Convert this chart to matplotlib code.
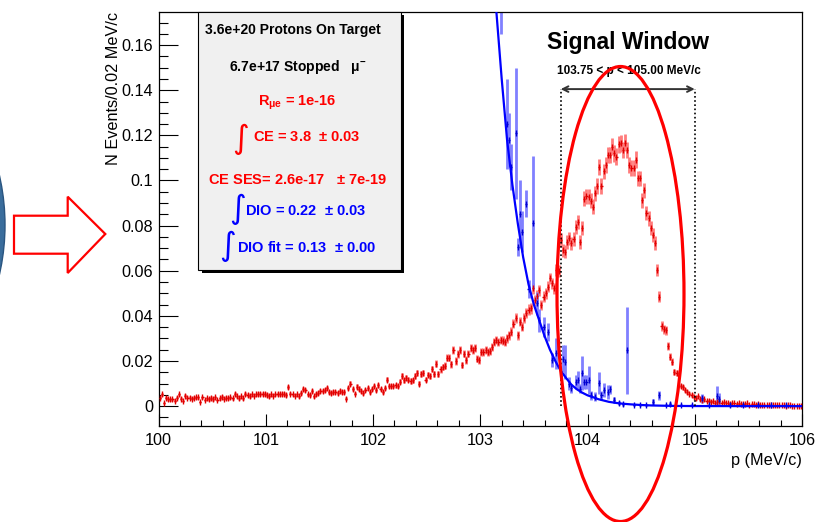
import numpy as np
import matplotlib
matplotlib.use('Agg')
import matplotlib.pyplot as plt
from matplotlib import ticker
from matplotlib.patches import Ellipse, Rectangle, Polygon

# histogram binning (0.02 MeV/c bins from 100 to 106)
bin_lo, bin_hi, bin_w = 100.0, 106.0, 0.02
p_bins = np.round(np.arange(bin_lo, bin_hi, bin_w) + bin_w / 2, 3)

# CE + DIO histogram (red), one value per bin
red_vals = [
    0.0037, 0.0052, 0.0015, 0.0037, 0.0030, 0.0030, 0.0030, 0.0025, 0.0037, 0.0052,
    0.0033, 0.0022, 0.0047, 0.0037, 0.0037, 0.0033, 0.0037, 0.0040, 0.0040, 0.0019,
    0.0040, 0.0027, 0.0034, 0.0030, 0.0037, 0.0030, 0.0040, 0.0027, 0.0034, 0.0041,
    0.0033, 0.0037, 0.0034, 0.0040, 0.0034, 0.0055, 0.0043, 0.0034, 0.0044, 0.0034,
    0.0055, 0.0049, 0.0044, 0.0052, 0.0047, 0.0052, 0.0055, 0.0055, 0.0055, 0.0055,
    0.0049, 0.0044, 0.0052, 0.0047, 0.0052, 0.0055, 0.0052, 0.0055, 0.0056, 0.0050,
    0.0084, 0.0056, 0.0052, 0.0047, 0.0052, 0.0044, 0.0058, 0.0074, 0.0070, 0.0052,
    0.0049, 0.0067, 0.0044, 0.0055, 0.0059, 0.0067, 0.0067, 0.0070, 0.0081, 0.0062,
    0.0059, 0.0064, 0.0062, 0.0059, 0.0066, 0.0062, 0.0064, 0.0033, 0.0081, 0.0099,
    0.0074, 0.0056, 0.0086, 0.0078, 0.0067, 0.0058, 0.0070, 0.0081, 0.0064, 0.0075,
    0.0089, 0.0071, 0.0092, 0.0075, 0.0064, 0.0081, 0.0118, 0.0089, 0.0089, 0.0089,
    0.0092, 0.0089, 0.0108, 0.0133, 0.0114, 0.0126, 0.0118, 0.0111, 0.0114, 0.0133,
    0.0148, 0.0099, 0.0144, 0.0148, 0.0118, 0.0140, 0.0135, 0.0165, 0.0141, 0.0188,
    0.0144, 0.0163, 0.0173, 0.0180, 0.0214, 0.0215, 0.0185, 0.0248, 0.0200, 0.0230,
    0.0248, 0.0182, 0.0233, 0.0204, 0.0233, 0.0256, 0.0250, 0.0256, 0.0211, 0.0204,
    0.0241, 0.0241, 0.0248, 0.0240, 0.0244, 0.0263, 0.0285, 0.0293, 0.0285, 0.0293,
    0.0290, 0.0285, 0.0300, 0.0315, 0.0330, 0.0366, 0.0389, 0.0315, 0.0374, 0.0352,
    0.0390, 0.0411, 0.0428, 0.0433, 0.0522, 0.0470, 0.0490, 0.0514, 0.0448, 0.0485,
    0.0500, 0.0530, 0.0566, 0.0544, 0.0522, 0.0603, 0.0600, 0.0736, 0.0691, 0.0684,
    0.0728, 0.0743, 0.0721, 0.0740, 0.0795, 0.0817, 0.0728, 0.0788, 0.0920, 0.0930,
    0.0928, 0.0910, 0.0884, 0.0943, 0.0975, 0.1060, 0.0975, 0.1040, 0.1068, 0.1113,
    0.1113, 0.1150, 0.1120, 0.1105, 0.1160, 0.1164, 0.1135, 0.1167, 0.1135, 0.1068,
    0.1054, 0.1054, 0.1093, 0.1009, 0.1009, 0.0913, 0.0957, 0.0857, 0.0832, 0.0790,
    0.0758, 0.0724, 0.0603, 0.0485, 0.0355, 0.0340, 0.0337, 0.0266, 0.0219, 0.0197,
    0.0152, 0.0145, 0.0137, 0.0089, 0.0083, 0.0070, 0.0064, 0.0056, 0.0049, 0.0041,
    0.0036, 0.0044, 0.0030, 0.0027, 0.0030, 0.0022, 0.0025, 0.0018, 0.0022, 0.0015,
    0.0020, 0.0024, 0.0015, 0.0018, 0.0012, 0.0016, 0.0010, 0.0014, 0.0012, 0.0010,
    0.0012, 0.0008, 0.0011, 0.0009, 0.0012, 0.0007, 0.0009, 0.0008, 0.0006, 0.0009,
    0.0006, 0.0005, 0.0007, 0.0004, 0.0006, 0.0005, 0.0004, 0.0005, 0.0003, 0.0004,
    0.0003, 0.0004, 0.0002, 0.0003, 0.0003, 0.0002, 0.0002, 0.0001, 0.0001, 0.0001,
]
# red errors, units of 1e-4
red_err_e4 = [
    7, 8, 4, 7, 6, 6, 6, 5, 7, 8,   6, 5, 8, 7, 7, 6, 7, 7, 7, 5,
    7, 6, 6, 6, 7, 6, 7, 6, 6, 7,   6, 7, 6, 7, 6, 8, 7, 6, 7, 6,
    8, 8, 7, 8, 8, 8, 8, 8, 8, 8,   8, 7, 8, 8, 8, 8, 8, 8, 8, 8,
    10, 8, 8, 8, 8, 7, 8, 9, 9, 8,  8, 9, 7, 8, 8, 9, 9, 9, 10, 9,
    8, 9, 9, 8, 9, 9, 9, 6, 10, 11, 9, 8, 10, 10, 9, 8, 9, 10, 9, 10,
    10, 9, 11, 10, 9, 10, 12, 10, 10, 10,  11, 10, 11, 13, 12, 12, 12, 12, 12, 13,
    13, 11, 13, 13, 12, 13, 13, 14, 13, 15,  13, 14, 14, 15, 16, 16, 15, 17, 16, 17,
    17, 15, 17, 16, 17, 18, 17, 18, 16, 16,  17, 17, 17, 17, 17, 18, 19, 19, 19, 19,
    19, 19, 19, 20, 20, 21, 22, 20, 21, 21,  22, 22, 23, 23, 25, 24, 24, 25, 23, 24,
    25, 25, 26, 26, 25, 27, 27, 30, 29, 29,  30, 30, 30, 30, 31, 31, 30, 31, 33, 34,
    34, 33, 33, 34, 34, 36, 34, 35, 36, 37,  37, 37, 37, 37, 37, 38, 37, 38, 37, 36,
    36, 36, 36, 35, 35, 33, 34, 32, 32, 31,  30, 30, 27, 24, 21, 20, 20, 18, 16, 15,
    14, 13, 13, 10, 10, 9, 9, 8, 8, 7,  7, 7, 6, 6, 6, 5, 5, 5, 5, 4,
    5, 5, 4, 5, 4, 4, 3, 4, 4, 3,  4, 3, 4, 3, 4, 3, 3, 3, 3, 3,
    3, 2, 3, 2, 3, 2, 2, 2, 2, 2,  2, 2, 2, 2, 2, 2, 2, 1, 1, 1,
]

# DIO histogram (blue), non-empty bins only
blue_p = [103.19, 103.25, 103.27, 103.29, 103.33, 103.35, 103.37, 103.39, 103.43, 103.45,
          103.49, 103.53, 103.55, 103.59, 103.63, 103.67, 103.71, 103.77, 103.79, 103.83,
          103.85, 103.89, 103.91, 103.93, 103.95, 103.97, 103.99, 104.01, 104.03, 104.07,
          104.11, 104.13, 104.15, 104.19, 104.21, 104.25, 104.29, 104.33, 104.37, 104.43,
          104.49, 104.55, 104.61, 104.67, 104.73, 104.77, 104.87, 104.97, 105.07, 105.13,
          105.21, 105.23, 105.33, 105.45, 105.59, 105.71, 105.85]
blue_vals = [0.190, 0.125, 0.118, 0.106, 0.121, 0.0706, 0.085, 0.0773, 0.0898, 0.052,
             0.0812, 0.0455, 0.038, 0.0352, 0.0329, 0.0204, 0.0234, 0.021, 0.0196, 0.010,
             0.008, 0.0108, 0.0115, 0.0078, 0.0145, 0.0108, 0.0108, 0.0115, 0.0049, 0.0041,
             0.0103, 0.0049, 0.0071, 0.0063, 0.0074, 0.0027, 0.0013, 0.0008, 0.0248, 0.0006,
             0.0005, 0.0006, 0.0019, 0.0049, 0.0006, 0.0010, 0.0005, 0.0006, 0.0035, 0.0005,
             0.0045, 0.0030, 0.0005, 0.0004, 0.0004, 0.0003, 0.0003]
blue_err = [0.025, 0.020, 0.012, 0.010, 0.029, 0.004, 0.015, 0.009, 0.006, 0.004,
            0.0295, 0.005, 0.005, 0.0045, 0.004, 0.003, 0.007, 0.006, 0.0075, 0.003,
            0.002, 0.003, 0.004, 0.002, 0.0075, 0.003, 0.003, 0.0063, 0.002, 0.002,
            0.0048, 0.002, 0.003, 0.003, 0.002, 0.0015, 0.001, 0.0006, 0.0192, 0.0005,
            0.0004, 0.0005, 0.0012, 0.002, 0.0005, 0.0008, 0.0004, 0.0005, 0.002, 0.0004,
            0.0045, 0.003, 0.0004, 0.0004, 0.0003, 0.0003, 0.0003]

# DIO fit curve
fit_p = [103.10, 103.15, 103.20, 103.25, 103.30, 103.35, 103.40, 103.45, 103.50, 103.55,
         103.60, 103.65, 103.70, 103.75, 103.80, 103.85, 103.90, 103.95, 104.00, 104.05,
         104.10, 104.20, 104.30, 104.40, 104.50, 104.60, 104.80, 105.00, 105.50, 106.00]
fit_vals = [0.213, 0.175, 0.145, 0.118, 0.098, 0.081, 0.066, 0.054, 0.045, 0.038,
            0.031, 0.025, 0.020, 0.0157, 0.0125, 0.0095, 0.0075, 0.006, 0.0048, 0.0040,
            0.0031, 0.0019, 0.0012, 0.0008, 0.0005, 0.0003, 0.0001, 0.00004, 0.0, 0.0]

y_ticks = [0, 0.02, 0.04, 0.06, 0.08, 0.1, 0.12, 0.14, 0.16]
x_ticks = [100, 101, 102, 103, 104, 105, 106]
window = (103.75, 105.00)

plt.rcParams['font.family'] = ['Liberation Sans', 'DejaVu Sans']
plt.rcParams['mathtext.fontset'] = 'custom'
plt.rcParams['mathtext.rm'] = 'Liberation Sans'
plt.rcParams['mathtext.it'] = 'Liberation Sans:italic'
plt.rcParams['mathtext.default'] = 'regular'

W, H = 818, 522
fig = plt.figure(figsize=(W / 100, H / 100), dpi=100)
fig.patch.set_facecolor('white')
ax = fig.add_axes([158.5 / W, 1 - 426 / H, (802 - 158.5) / W, (426 - 11.7) / H])

red_vals = np.asarray(red_vals)
red_err = np.asarray(red_err_e4) * 1e-4

# red points
ax.errorbar(p_bins, red_vals, yerr=red_err, fmt='none', ecolor='#ff7c7c', elinewidth=2.0, zorder=2)
ax.errorbar(p_bins, red_vals, xerr=bin_w / 2, fmt='none', ecolor='#e00000', elinewidth=1.0, zorder=3)
ax.plot(p_bins, red_vals, ls='none', marker='|', ms=4, mew=1.0, color='#e00000', zorder=3)

# blue points
ax.errorbar(blue_p, blue_vals, yerr=blue_err, fmt='none', ecolor='#8080ff', elinewidth=2.0, zorder=2)
ax.errorbar(blue_p, blue_vals, xerr=bin_w / 2, fmt='none', ecolor='#0000d0', elinewidth=1.0, zorder=3)
ax.plot(blue_p, blue_vals, ls='none', marker='|', ms=4, mew=1.0, color='#0000d0', zorder=3)

# fit
ax.plot(fit_p, fit_vals, color='#0000ff', lw=1.6, zorder=4)

# signal window
ax.vlines(window, 0, 0.1405, colors='k', linestyles=(0, (1, 1.5)), lw=1.2, zorder=5)
ax.annotate('', xy=(window[0], 0.1405), xytext=(window[1], 0.1405),
            arrowprops=dict(arrowstyle='<->', color='#333333', lw=1.4, shrinkA=0, shrinkB=0))
ax.text(104.373, 0.1613, 'Signal Window', ha='center', va='center', fontsize=16.5, weight='bold')
ax.text(104.382, 0.1486, '103.75 < p < 105.00 MeV/c', ha='center', va='center', fontsize=8.5, weight='bold')

ax.set_xlim(bin_lo, bin_hi)
ax.set_ylim(-0.0088, 0.1748)
ax.set_xticks(x_ticks)
ax.set_yticks(y_ticks)
ax.yaxis.set_major_formatter(ticker.FuncFormatter(lambda v, _: f'{v:g}'))
ax.xaxis.set_minor_locator(ticker.MultipleLocator(0.2))
ax.yaxis.set_minor_locator(ticker.MultipleLocator(0.005))
ax.tick_params(axis='y', which='major', direction='in', length=13.7, width=0.8, labelsize=11.7, pad=4)
ax.tick_params(axis='y', which='minor', direction='in', length=6.8, width=0.8)
ax.tick_params(axis='x', which='major', direction='in', length=8.9, width=0.8, labelsize=11.7, pad=5)
ax.tick_params(axis='x', which='minor', direction='in', length=4.5, width=0.8)
for s in ax.spines.values():
    s.set_linewidth(0.9)
    s.set_color('black')

# overlay in figure pixels
ov = fig.add_axes([0, 0, 1, 1])
ov.set_xlim(0, W)
ov.set_ylim(H, 0)
ov.axis('off')
ov.set_zorder(10)
ov.patch.set_alpha(0)

ov.text(113.5, 12, 'N Events/0.02 MeV/c', rotation=90, ha='center', va='top', fontsize=11.7)
ov.text(802, 460, 'p (MeV/c)', ha='right', va='center', fontsize=11.7)

# stats box
ov.add_patch(Rectangle((201.5, 14.7), 202.4, 258.3, facecolor='black', edgecolor='none'))
ov.add_patch(Rectangle((198.3, 11.7), 202.4, 258.3, facecolor='#f0f0f0', edgecolor='black', lw=0.8))
ov.text(293, 30, '3.6e+20 Protons On Target', ha='center', va='center', fontsize=10, weight='bold')
ov.text(298, 67, r'6.7e+17 Stopped   $\mu^{-}$', ha='center', va='center', fontsize=10, weight='bold')
ov.text(297, 103, r'R$_{\mu e}$ = 1e-16', ha='center', va='center', fontsize=10.5, weight='bold', color='red')
ov.text(240, 139, '\u222b', ha='center', va='center', fontsize=23, color='red', family='DejaVu Sans')
ov.text(253, 137, r'CE = 3.8  $\pm$ 0.03', ha='left', va='center', fontsize=10.5, weight='bold', color='red')
ov.text(297, 180, r'CE SES= 2.6e-17   $\pm$ 7e-19', ha='center', va='center', fontsize=10.5, weight='bold', color='red')
ov.text(237, 209, '\u222b', ha='center', va='center', fontsize=23, color='blue', family='DejaVu Sans')
ov.text(245, 211, r'DIO = 0.22  $\pm$ 0.03', ha='left', va='center', fontsize=10.5, weight='bold', color='blue')
ov.text(227, 246, '\u222b', ha='center', va='center', fontsize=23, color='blue', family='DejaVu Sans')
ov.text(237, 248, r'DIO fit = 0.13  $\pm$ 0.00', ha='left', va='center', fontsize=10.5, weight='bold', color='blue')

# red ellipse around the window, block arrow and blue disc at the left edge
ov.add_patch(Ellipse((620.5, 294), 127, 455, facecolor='none', edgecolor='red', lw=2.3))
ov.add_patch(Polygon([(14, 215.7), (67.7, 215.7), (67.7, 196.7), (105.3, 234),
                      (67.7, 273), (67.7, 253.7), (14, 253.7)], closed=True,
                     facecolor='white', edgecolor='red', lw=1.6))
ov.add_patch(Ellipse((-218, 225), 446, 446, facecolor='#3a6d9c', edgecolor='#2a5580', lw=1))

fig.savefig('out.png', dpi=100)
